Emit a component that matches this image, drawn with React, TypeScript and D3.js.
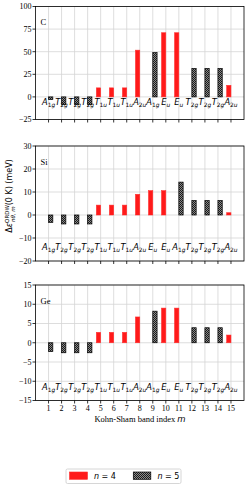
import React from "react";
import * as d3 from "d3";

// band index 1..15
const bands = d3.range(1, 16);

const labelsC = ["A1g", "T2g", "T2g", "T2g", "T1u", "T1u", "T1u", "A2u", "A1g", "Eu", "Eu", "T2g", "T2g", "T2g", "A2u"];
const labelsSi = ["A1g", "T2g", "T2g", "T2g", "T1u", "T1u", "T1u", "A2u", "Eu", "Eu", "A1g", "T2g", "T2g", "T2g", "A2u"];
const labelsGe = ["A1g", "T2g", "T2g", "T2g", "T1u", "T1u", "T1u", "A2u", "A1g", "Eu", "Eu", "T2g", "T2g", "T2g", "A2u"];

const n4C = [0, 0, 0, 0, 10, 10, 10, 51.7, 0, 71, 71, 0, 0, 0, 12.8];
const n5C = [-3, -8.5, -8.5, -8.5, 0, 0, 0, 0, 49, 0, 0, 31.5, 31.5, 31.5, 0];
const n4Si = [0, 0, 0, 0, 4.3, 4.3, 4.3, 9.0, 10.6, 10.6, 0, 0, 0, 0, 1.0];
const n5Si = [-3.2, -3.9, -3.9, -3.9, 0, 0, 0, 0, 0, 0, 14.3, 6.3, 6.3, 6.3, 0];
const n4Ge = [0, 0, 0, 0, 2.7, 2.7, 2.7, 6.7, 0, 9.0, 9.0, 0, 0, 0, 2.0];
const n5Ge = [-2.3, -2.6, -2.6, -2.6, 0, 0, 0, 0, 8.2, 0, 0, 3.9, 3.9, 3.9, 0];

const ticksC = [-25, 0, 25, 50, 75, 100];
const ticksSi = [-20, -10, 0, 10, 20, 30];
const ticksGe = [-15, -10, -5, 0, 5, 10, 15];

const serif = "'Liberation Serif', 'Times New Roman', serif";
const sans = "'DejaVu Sans', sans-serif";

const left = 35.5;
const right = 244;
const barW = 0.33;

const panels = [
  { name: "C", labels: labelsC, n4: n4C, n5: n5C, ticks: ticksC, top: 6.5, bottom: 119.5, irrepY: -8.5 },
  { name: "Si", labels: labelsSi, n4: n4Si, n5: n5Si, ticks: ticksSi, top: 146, bottom: 261, irrepY: -15.3 },
  { name: "Ge", labels: labelsGe, n4: n4Ge, n5: n5Ge, ticks: ticksGe, top: 285, bottom: 400.5, irrepY: -12.4 },
];

const x = d3.scaleLinear().domain([0, 16]).range([left, right]);

function Irrep({ label, cx, y }: { label: string; cx: number; y: number }) {
  const main = label[0];
  const sub = label.slice(1).split("");
  return (
    <text x={cx} y={y} textAnchor="middle" fontFamily={sans} fontSize={8.3} fill="#000">
      <tspan fontStyle="italic">{main}</tspan>
      {sub.map((c, i) => (
        <tspan key={i} fontSize={5.9} dy={i === 0 ? 2 : 0} fontStyle={/[0-9]/.test(c) ? "normal" : "italic"}>
          {c}
        </tspan>
      ))}
    </text>
  );
}

function Panel({ p, last }: { p: (typeof panels)[number]; last: boolean }) {
  const ext = d3.extent(p.ticks) as [number, number];
  const y = d3.scaleLinear().domain(ext).range([p.bottom, p.top]);
  return (
    <g>
      {/* grid */}
      {bands.map((b) => (
        <line key={"gx" + b} x1={x(b)} x2={x(b)} y1={p.top} y2={p.bottom} stroke="#d4d4d4" strokeWidth={0.8} />
      ))}
      {p.ticks.map((t) => (
        <line key={"gy" + t} x1={left} x2={right} y1={y(t)} y2={y(t)} stroke="#d4d4d4" strokeWidth={0.8} />
      ))}
      {/* n = 4 bars */}
      {p.n4.map((v, i) => {
        const b = bands[i];
        const y0 = y(Math.max(0, v));
        const h = Math.abs(y(v) - y(0));
        return (
          <rect key={"r" + b} x={x(b - barW)} width={x(barW) - x(0)} y={y0} height={h}
            fill="#ff1a1a" stroke="#ff2a2a" strokeOpacity={v === 0 ? 0.45 : 0.9} strokeWidth={0.6} />
        );
      })}
      {/* n = 5 bars */}
      {p.n5.map((v, i) => {
        const b = bands[i];
        const y0 = y(Math.max(0, v));
        const h = Math.abs(y(v) - y(0));
        return (
          <rect key={"k" + b} x={x(b)} width={x(barW) - x(0)} y={y0} height={h}
            fill="url(#hatch)" stroke="#000" strokeOpacity={v === 0 ? 0.3 : 1} strokeWidth={0.7} />
        );
      })}
      {/* irreps */}
      {p.labels.map((l, i) => (
        <Irrep key={"l" + i} label={l} cx={x(bands[i])} y={y(p.irrepY)} />
      ))}
      {/* frame */}
      <rect x={left} y={p.top} width={right - left} height={p.bottom - p.top} fill="none" stroke="#000" strokeWidth={0.8} />
      {/* y ticks */}
      {p.ticks.map((t) => (
        <g key={"ty" + t}>
          <line x1={left - 3} x2={left} y1={y(t)} y2={y(t)} stroke="#000" strokeWidth={0.8} />
          <text x={left - 4} y={y(t) + 2.8} textAnchor="end" fontFamily={serif} fontSize={8} fill="#000">
            {t < 0 ? "\u2212" + Math.abs(t) : t}
          </text>
        </g>
      ))}
      {/* x ticks */}
      {bands.map((b) => (
        <g key={"tx" + b}>
          <line x1={x(b)} x2={x(b)} y1={p.bottom} y2={p.bottom + 3} stroke="#000" strokeWidth={0.8} />
          {last && (
            <text x={x(b)} y={p.bottom + 10.5} textAnchor="middle" fontFamily={serif} fontSize={8} fill="#000">
              {b}
            </text>
          )}
        </g>
      ))}
      <text x={40.5} y={p.top + 18.5} fontFamily={serif} fontSize={8.5} fill="#000">
        {p.name}
      </text>
    </g>
  );
}

export default function App() {
  return (
    <svg width={249} height={485} style={{ position: "absolute", left: 0, top: 0, background: "#fff" }}>
      <defs>
        <pattern id="hatch" width={2} height={2} patternUnits="userSpaceOnUse">
          <rect width={2} height={2} fill="#8a8a8a" />
          <rect width={1} height={1} fill="#1a1a1a" />
          <rect x={1} y={1} width={1} height={1} fill="#1a1a1a" />
        </pattern>
      </defs>
      {panels.map((p, i) => (
        <Panel key={p.name} p={p} last={i === panels.length - 1} />
      ))}
      {/* y label */}
      <text transform="translate(12,196) rotate(-90)" textAnchor="middle" fontFamily={sans} fontSize={8} fill="#000">
        <tspan>Δ</tspan>
        <tspan fontStyle="italic">ε</tspan>
        <tspan fontSize={5.5} dy={-3.5}>ORDW</tspan>
        <tspan fontSize={5.5} dx={-17} dy={6} fontStyle="italic">nθ</tspan>
        <tspan fontSize={5.5} dy={0}>, </tspan>
        <tspan fontSize={5.5} fontStyle="italic">m</tspan>
        <tspan dy={-2.5} dx={1}>(0 K) (meV)</tspan>
      </text>
      {/* x label */}
      <text x={140} y={421.5} textAnchor="middle" fontFamily={serif} fontSize={8.5} fill="#000">
        Kohn-Sham band index <tspan fontFamily={sans} fontStyle="italic">m</tspan>
      </text>
      {/* legend */}
      <g>
        <rect x={66} y={469} width={115} height={14.5} rx={1.5} fill="#fff" stroke="#ccc" strokeWidth={0.8} />
        <rect x={69.5} y={472} width={18} height={7.3} fill="#ff1a1a" stroke="#ff2a2a" strokeWidth={0.6} />
        <text x={94} y={479.3} fontFamily={sans} fontSize={8} fill="#000">
          <tspan fontStyle="italic">n</tspan> = 4
        </text>
        <rect x={133.3} y={472} width={17.5} height={7.3} fill="url(#hatch)" stroke="#000" strokeWidth={0.7} />
        <text x={157.5} y={479.3} fontFamily={sans} fontSize={8} fill="#000">
          <tspan fontStyle="italic">n</tspan> = 5
        </text>
      </g>
    </svg>
  );
}
